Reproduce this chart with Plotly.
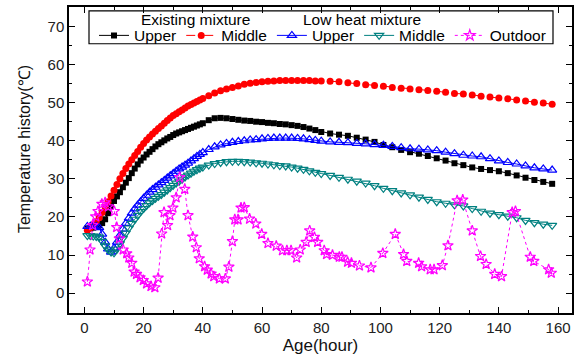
import plotly.graph_objects as go

# ---------------- data ----------------
hours = [1, 2, 3, 4, 5, 6, 7, 8, 9, 10, 11, 12, 13, 14, 15, 16, 17, 18, 19, 20,
         21, 22, 23, 24, 25, 26, 27, 28, 29, 30, 31, 32, 33, 34, 35, 36, 37, 38, 39, 40,
         42, 44, 46, 48, 50, 52, 54, 56, 58, 60, 62, 64, 66, 68, 70, 72, 74, 76, 78, 80,
         83, 86, 89, 92, 95, 98, 101, 104, 107, 110, 113, 116, 119, 122, 125, 128, 131,
         134, 137, 140, 143, 146, 149, 152, 155, 158]

existing_upper = [17.0, 17.0, 17.2, 17.5, 17.8, 18.4, 19.4, 21.0, 22.8, 24.2, 25.4, 26.5, 27.8, 29.0, 30.2,
                  31.5, 32.7, 33.8, 34.8, 35.6, 36.4, 37.1, 37.8, 38.5, 39.1, 39.6, 40.1, 40.6, 41.0, 41.5,
                  41.9, 42.2, 42.5, 42.8, 43.1, 43.4, 43.7, 44.0, 44.3, 44.6,
                  45.4, 45.9, 46.0, 45.9, 45.7, 45.5, 45.3, 45.2, 45.0, 44.9, 44.7, 44.6, 44.4, 44.3, 44.1,
                  43.9, 43.6, 43.2, 42.8, 42.3,
                  41.9, 41.6, 41.3, 40.8, 40.3, 39.7, 38.9, 38.3, 37.6, 37.0, 36.6, 36.0, 35.4, 34.8, 34.1,
                  33.6, 33.0, 32.6, 32.3, 32.0, 31.5, 30.9, 30.3, 29.7, 29.2, 28.7]

existing_middle = [16.5, 17.2, 18.0, 18.8, 19.8, 21.2, 22.6, 24.0, 25.5, 27.0, 28.5, 30.0, 31.4, 32.7, 33.9,
                   35.0, 36.1, 37.2, 38.3, 39.3, 40.2, 41.0, 41.8, 42.5, 43.2, 43.9, 44.6, 45.3, 46.0, 46.6,
                   47.1, 47.6, 48.1, 48.6, 49.1, 49.5, 49.9, 50.3, 50.7, 51.1,
                   51.8, 52.5, 53.1, 53.6, 54.0, 54.4, 54.8, 55.1, 55.3, 55.5, 55.6, 55.7, 55.8, 55.8, 55.8,
                   55.8, 55.8, 55.8, 55.7, 55.7,
                   55.6, 55.5, 55.2, 55.0, 54.7, 54.5, 54.3, 54.0, 53.8, 53.6, 53.4, 53.2, 53.0, 52.7, 52.4,
                   52.3, 52.0, 51.7, 51.5, 51.2, 51.0, 50.7, 50.4, 50.1, 49.9, 49.6]

lowheat_upper = [17.5, 17.6, 17.6, 17.5, 17.2, 15.5, 13.4, 11.6, 10.8, 11.8, 13.4, 15.2, 16.8, 18.3, 19.7,
                 21.0, 22.1, 23.1, 24.0, 24.9, 25.7, 26.5, 27.2, 27.8, 28.4, 29.0, 29.6, 30.2, 30.8, 31.4,
                 32.0, 32.6, 33.1, 33.6, 34.1, 34.7, 35.3, 35.9, 36.4, 36.9,
                 37.7, 38.4, 38.9, 39.3, 39.6, 39.8, 40.0, 40.2, 40.3, 40.5, 40.6, 40.7, 40.7, 40.7, 40.7,
                 40.6, 40.5, 40.3, 40.1, 39.9,
                 39.7, 39.6, 39.5, 39.3, 39.2, 39.0, 38.8, 38.5, 38.2, 37.9, 37.8, 37.6, 37.4, 37.0, 36.6,
                 36.2, 36.0, 35.8, 35.3, 34.7, 34.3, 33.9, 33.4, 32.9, 32.6, 32.3]

lowheat_middle = [15.1, 15.1, 15.0, 14.9, 14.7, 13.6, 12.4, 11.4, 10.8, 10.6, 11.6, 13.0, 14.4, 15.8, 17.1,
                  18.3, 19.4, 20.4, 21.4, 22.2, 23.0, 23.7, 24.3, 24.9, 25.4, 25.9, 26.5, 27.1, 27.7, 28.3,
                  28.9, 29.4, 29.9, 30.5, 31.0, 31.5, 32.0, 32.4, 32.8, 33.1,
                  33.6, 34.0, 34.3, 34.5, 34.6, 34.6, 34.5, 34.4, 34.2, 34.1, 33.9, 33.7, 33.5, 33.4, 33.1,
                  32.8, 32.5, 32.1, 31.7, 31.4,
                  30.9, 30.4, 29.9, 29.4, 28.9, 28.2, 27.5, 26.9, 26.3, 25.8, 25.2, 24.6, 24.0, 23.6, 23.2,
                  22.9, 22.2, 21.5, 21.0, 20.6, 20.2, 19.8, 19.1, 18.5, 18.1, 17.8]

outdoor_hours = [1.0, 1.9, 2.8, 3.8, 4.6, 5.9, 7.0, 8.1, 10.1, 10.9, 11.8, 13.1, 14.3, 15.0, 16.0,
                 16.8, 17.6, 18.8, 19.9, 21.0, 22.5, 23.8, 24.9, 26.1, 26.9, 28.1, 28.9, 29.9, 31.0, 32.2,
                 33.9, 35.0, 36.6, 37.8, 38.8, 40.6, 41.5, 42.8, 43.7, 45.6, 47.6, 48.8, 50.0, 50.8, 51.9,
                 52.9, 54.0, 55.8, 57.9, 59.9, 62.0, 64.8, 66.9, 68.4, 69.8, 71.7, 72.9, 74.9, 76.1, 77.7,
                 78.8, 81.0, 81.8, 83.8, 86.1, 87.0, 88.9, 90.2, 92.9, 96.8, 100.8, 105.0, 107.8, 108.9, 112.9,
                 113.9, 116.8, 118.1, 120.9, 122.8, 125.9, 127.8, 131.0, 133.8, 135.7, 138.6, 140.9, 144.5, 145.6, 150.6,
                 151.8, 156.8, 157.7]

outdoor_temp = [3.0, 11.4, 17.8, 20.1, 21.5, 23.4, 23.8, 22.7, 21.5, 17.3, 14.3, 11.4, 10.4, 9.3, 7.9,
                5.6, 5.0, 4.1, 3.4, 2.5, 1.8, 1.5, 4.0, 15.6, 21.2, 17.8, 20.4, 22.4, 25.1, 30.4,
                27.3, 20.4, 14.8, 12.0, 9.1, 7.0, 6.1, 5.1, 4.4, 3.8, 3.8, 6.9, 13.6, 19.3, 19.3,
                22.4, 22.5, 19.5, 18.2, 15.5, 13.1, 12.4, 11.2, 11.2, 11.2, 9.3, 11.4, 13.4, 16.4, 14.7,
                13.4, 11.2, 10.2, 10.0, 9.5, 9.5, 8.2, 7.9, 7.2, 6.7, 10.5, 15.5, 10.2, 8.4, 7.9,
                7.0, 6.2, 6.2, 7.3, 12.5, 24.3, 24.5, 16.4, 9.7, 7.6, 5.0, 4.4, 21.2, 21.5, 9.5,
                8.4, 6.2, 5.3]

x_ticks = [0, 20, 40, 60, 80, 100, 120, 140, 160]
y_ticks = [0, 10, 20, 30, 40, 50, 60, 70]

# ---------------- figure ----------------
FONT = "Liberation Sans, Arial, sans-serif"
fig = go.Figure()

fig.add_trace(go.Scatter(x=hours, y=existing_upper, name="Upper", mode="lines+markers",
                         line=dict(color="black", width=1),
                         marker=dict(symbol="square", size=6, color="black")))
fig.add_trace(go.Scatter(x=hours, y=existing_middle, name="Middle", mode="lines+markers",
                         line=dict(color="red", width=1, dash="dash"),
                         marker=dict(symbol="circle", size=7, color="red")))
fig.add_trace(go.Scatter(x=hours, y=lowheat_upper, name="Upper", mode="lines+markers",
                         line=dict(color="blue", width=1),
                         marker=dict(symbol="triangle-up-open", size=8, color="blue",
                                     line=dict(width=1.2, color="blue"))))
fig.add_trace(go.Scatter(x=hours, y=lowheat_middle, name="Middle", mode="lines+markers",
                         line=dict(color="#008080", width=1),
                         marker=dict(symbol="triangle-down-open", size=8, color="#008080",
                                     line=dict(width=1.2, color="#008080"))))
fig.add_trace(go.Scatter(x=outdoor_hours, y=outdoor_temp, name="Outdoor", mode="lines+markers",
                         line=dict(color="#ff00ff", width=1, dash="3px,3px"),
                         marker=dict(symbol="star-open", size=8, color="#ff00ff",
                                     line=dict(width=1.2, color="#ff00ff"))))

axis_common = dict(showline=True, linecolor="black", linewidth=1.5, mirror="allticks",
                   ticks="inside", ticklen=6, tickwidth=1, tickcolor="black",
                   showgrid=False, zeroline=False,
                   tickfont=dict(family=FONT, size=15, color="#222"))

fig.update_xaxes(range=[-5.2, 164.7], tickvals=x_ticks,
                 minor=dict(ticks="inside", ticklen=3, dtick=10, tickcolor="black", showgrid=False),
                 title=dict(text="Age(hour)", font=dict(family=FONT, size=17, color="#111"), standoff=3),
                 **axis_common)
fig.update_yaxes(range=[-5.2, 75.1], tickvals=y_ticks,
                 minor=dict(ticks="inside", ticklen=3, dtick=5, tickcolor="black", showgrid=False),
                 **axis_common)

# legend frame, group headers and y title
def px2x(px):
    return (px - 69) / 503.0

def px2y(py):
    return (313 - py) / 308.0

fig.add_shape(type="rect", xref="paper", yref="paper",
              x0=px2x(89), x1=px2x(553), y0=px2y(42), y1=px2y(9),
              line=dict(color="black", width=1.2), fillcolor="rgba(0,0,0,0)")
fig.add_annotation(text="Existing mixture", xref="paper", yref="paper", x=px2x(195), y=px2y(18),
                   xanchor="center", yanchor="middle", showarrow=False,
                   font=dict(family=FONT, size=15.5, color="black"))
fig.add_annotation(text="Low heat mixture", xref="paper", yref="paper", x=px2x(362), y=px2y(18),
                   xanchor="center", yanchor="middle", showarrow=False,
                   font=dict(family=FONT, size=15.5, color="black"))
fig.add_annotation(text="Temperature history(℃)", xref="paper", yref="paper", x=px2x(24), y=px2y(148),
                   xanchor="center", yanchor="middle", textangle=-90, showarrow=False,
                   font=dict(family=FONT, size=16, color="#111"))

fig.update_layout(
    width=583, height=360,
    margin=dict(l=69, r=11, t=5, b=47),
    paper_bgcolor="white", plot_bgcolor="white",
    font=dict(family=FONT, color="black"),
    showlegend=True,
    legend=dict(orientation="h", x=px2x(94), xanchor="left", y=px2y(34), yanchor="middle",
                bgcolor="rgba(0,0,0,0)", borderwidth=0, font=dict(family=FONT, size=15.5),
                itemwidth=30, tracegroupgap=0),
)

fig.write_html("out.html", config={"displayModeBar": False},
               post_script="document.body.style.margin='0px';")
